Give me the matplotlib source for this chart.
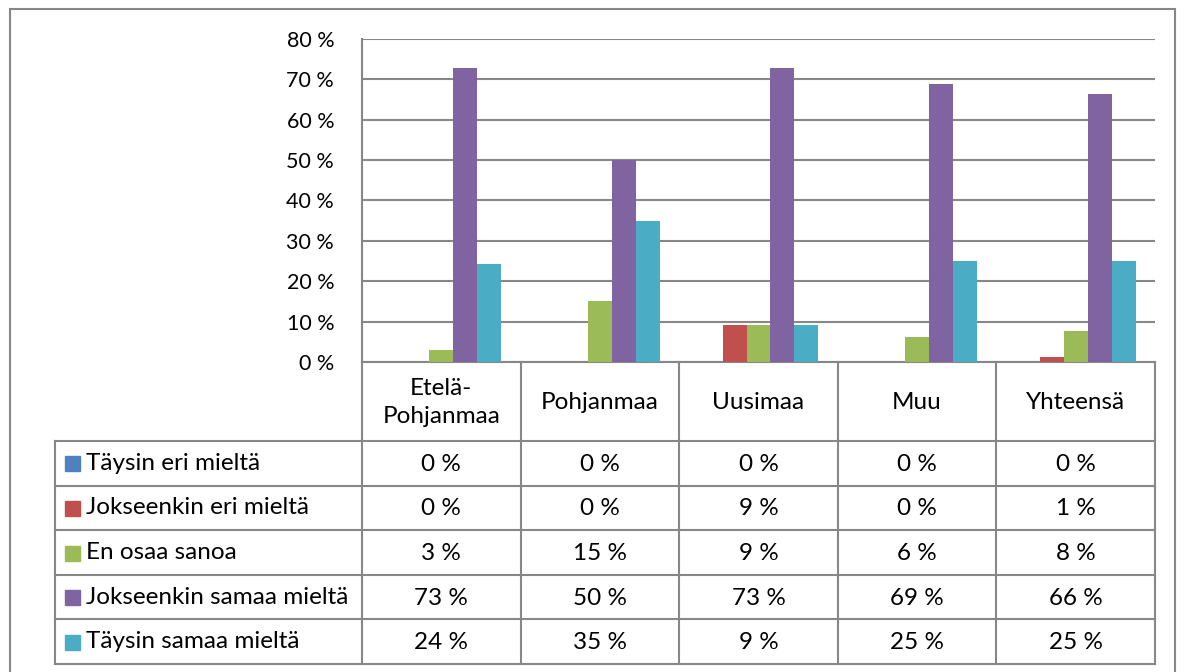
import numpy as np
import matplotlib.pyplot as plt
from matplotlib.patches import Rectangle
from matplotlib.lines import Line2D

categories = ["Etelä-\nPohjanmaa", "Pohjanmaa", "Uusimaa", "Muu", "Yhteensä"]
series = ["Täysin eri mieltä", "Jokseenkin eri mieltä", "En osaa sanoa",
          "Jokseenkin samaa mieltä", "Täysin samaa mieltä"]
taysin_eri = [0, 0, 0, 0, 0]
jokseenkin_eri = [0, 0, 9.1, 0, 1.2]
en_osaa = [3.0, 15.0, 9.1, 6.25, 7.6]
jokseenkin_samaa = [72.7, 50.0, 72.7, 68.75, 66.3]
taysin_samaa = [24.2, 35.0, 9.1, 25.0, 24.9]
values = [taysin_eri, jokseenkin_eri, en_osaa, jokseenkin_samaa, taysin_samaa]
colors = ["#4F81BD", "#C0504D", "#9BBB59", "#8064A2", "#4BACC6"]

W, H = 1187, 672
plt.rcParams['font.family'] = ['Lato', 'DejaVu Sans']
fig = plt.figure(figsize=(W / 100, H / 100), dpi=100)
grid_c = "#878787"
fs_tick = 15.5
fs = 17.5


def fx(px):
    return px / W


def fy(py):
    return 1 - py / H


def hline(y, x0, x1):
    fig.add_artist(Line2D([fx(x0), fx(x1)], [fy(y), fy(y)], color=grid_c, lw=1.5))


def vline(x, y0, y1):
    fig.add_artist(Line2D([fx(x), fx(x)], [fy(y0), fy(y1)], color=grid_c, lw=1.5))


# outer frame
fig.add_artist(Rectangle((fx(10), fy(700)), fx(1175) - fx(10), fy(9) - fy(700),
                         fill=False, edgecolor=grid_c, lw=1.5))

# plot area
left, right, top, bottom = 362, 1155, 39, 362
ax = fig.add_axes([fx(left), fy(bottom), fx(right) - fx(left), fy(top) - fy(bottom)])
x = np.arange(len(categories))
bw = 0.151
for k, (vals, c) in enumerate(zip(values, colors)):
    ax.bar(x + (k - 2) * bw, vals, width=bw, color=c, zorder=3)
ax.set_xlim(-0.5, len(categories) - 0.5)
ax.set_ylim(0, 80)
ax.set_yticks(np.arange(0, 81, 10))
ax.set_yticklabels([f"{v} %" for v in range(0, 81, 10)], fontsize=fs_tick)
ax.tick_params(axis='y', length=0, pad=20)
ax.set_xticks([])
ax.grid(axis='y', color=grid_c, lw=1.5, zorder=0)
for s in ['top', 'right']:
    ax.spines[s].set_visible(False)
for s in ['left', 'bottom']:
    ax.spines[s].set_color(grid_c)
    ax.spines[s].set_linewidth(1.5)

# data table
col_edges = np.linspace(left, right, len(categories) + 1)
row_edges = np.linspace(441, 664, len(series) + 1)
lab_x = 55
for ce in col_edges:
    vline(ce, bottom, row_edges[-1])
vline(lab_x, row_edges[0], row_edges[-1])
for re in row_edges:
    hline(re, lab_x, right)

for i, cat in enumerate(categories):
    cx = (col_edges[i] + col_edges[i + 1]) / 2
    fig.text(fx(cx), fy((bottom + row_edges[0]) / 2 + 1), cat, ha='center', va='center',
             fontsize=fs, linespacing=1.4)

for r, (name, vals, c) in enumerate(zip(series, values, colors)):
    cy = (row_edges[r] + row_edges[r + 1]) / 2
    fig.add_artist(Rectangle((fx(65), fy(cy + 8)), fx(15), 15 / H, color=c))
    fig.text(fx(86), fy(cy), name, ha='left', va='center', fontsize=fs)
    for i, v in enumerate(vals):
        cx = (col_edges[i] + col_edges[i + 1]) / 2
        fig.text(fx(cx), fy(cy + 1), f"{round(v)} %", ha='center', va='center', fontsize=fs)

fig.savefig("out.png", dpi=100)
